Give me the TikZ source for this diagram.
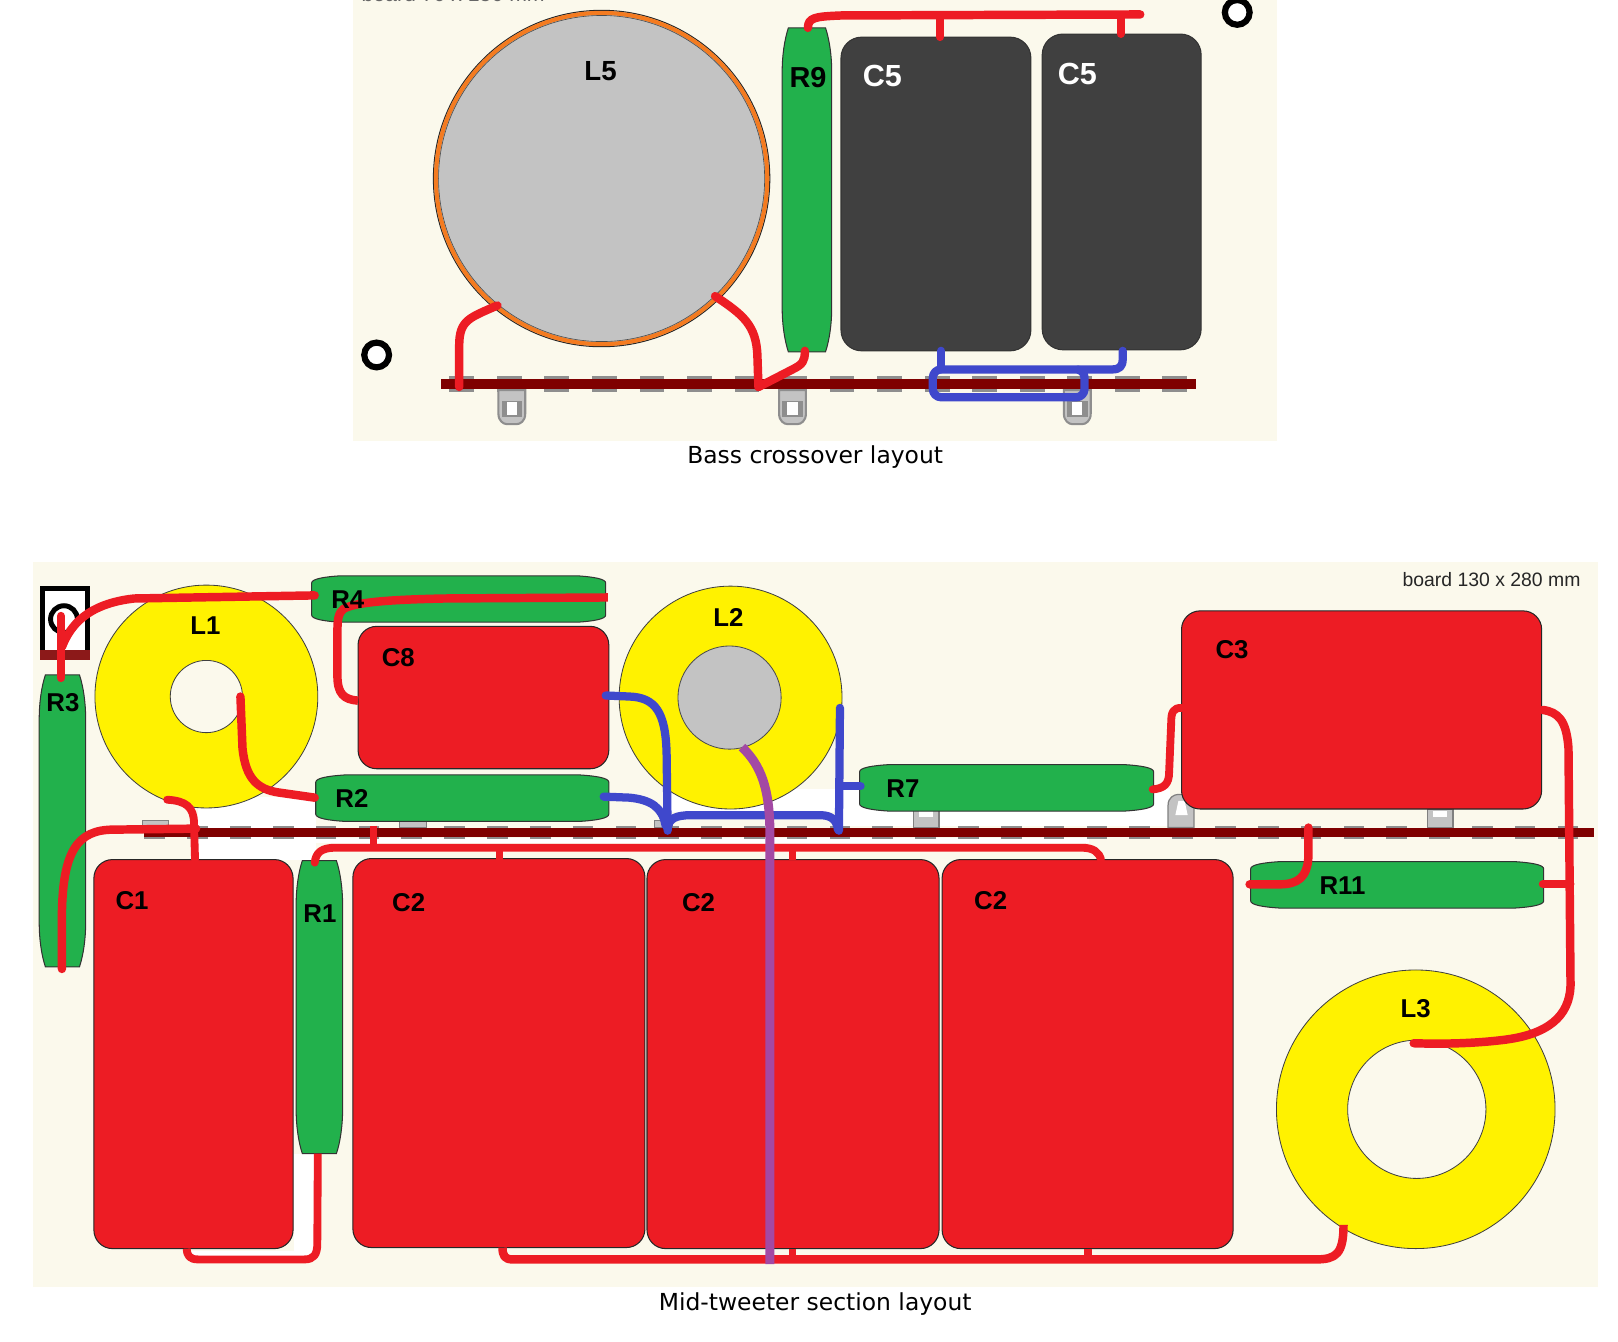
\documentclass[tikz,border=0pt]{standalone}
\usepackage{fontspec}
\setmainfont{Liberation Sans}
\newfontfamily\capfont{DejaVu Sans}
\definecolor{boardbg}{HTML}{FBF9EC}
\definecolor{capred}{HTML}{ED1C24}
\definecolor{resgreen}{HTML}{22B14C}
\definecolor{coilyellow}{HTML}{FFF200}
\definecolor{capdark}{HTML}{404040}
\definecolor{stripmaroon}{HTML}{7F0000}
\definecolor{wireblue}{HTML}{3F48CC}
\definecolor{wirepurple}{HTML}{A349A4}
\definecolor{coilgray}{HTML}{C3C3C3}
\definecolor{coilorange}{HTML}{F47B20}
\definecolor{dashgray}{HTML}{8E8E8E}
\tikzset{
  board/.style={fill=boardbg,draw=none},
  capbox/.style={fill=capred,draw=black!85,line width=0.5pt,rounded corners=9pt},
  darkbox/.style={fill=capdark,draw=capdark!80!black,line width=0.5pt,rounded corners=10pt},
  res/.style={fill=resgreen,draw=black!80,line width=0.5pt},
  coil/.style={fill=coilyellow,draw=black!75,line width=0.4pt},
  hole/.style={fill=boardbg,draw=black!75,line width=0.4pt},
  redw/.style={draw=capred,line width=4.1pt,line cap=round,line join=round},
  thinred/.style={draw=capred,line width=3.8pt,line cap=round,line join=round},
  bluew/.style={draw=wireblue,line width=4pt,line cap=round,line join=round},
  purw/.style={draw=wirepurple,line width=4.4pt,line cap=butt,line join=round},
  lab/.style={font=\bfseries\fontsize{12.5pt}{14pt}\selectfont,text=black,inner sep=0pt,yshift=-0.5pt},
  labw/.style={font=\bfseries\fontsize{14.8pt}{16pt}\selectfont,text=white,inner sep=0pt,yshift=-0.5pt},
  capt/.style={font=\capfont\fontsize{11.35pt}{13pt}\selectfont,inner sep=0pt},
  ring/.style={draw=black,line width=3pt,fill=white},
  strip/.style={fill=stripmaroon,draw=none},
  dashb/.style={fill=dashgray,draw=none},
  pinb/.style={fill=coilgray,draw=black!50,line width=0.6pt},
  whitep/.style={fill=white,draw=none}
}
\newcommand{\hres}[4]{%
  \pgfmathsetmacro\xa{#1+28}\pgfmathsetmacro\xb{#3-28}%
  \pgfmathsetmacro\ya{#2+7}\pgfmathsetmacro\yb{#4-7}%
  \path[res] (#1,\ya) .. controls (#1,#2+3) and (#1+12,#2+1) .. (\xa,#2) -- (\xb,#2)
    .. controls (#3-12,#2+1) and (#3,#2+3) .. (#3,\ya) -- (#3,\yb)
    .. controls (#3,#4-3) and (#3-12,#4-1) .. (\xb,#4) -- (\xa,#4)
    .. controls (#1+12,#4-1) and (#1,#4-3) .. (#1,\yb) -- cycle;}
\newcommand{\vres}[4]{%
  \pgfmathsetmacro\xa{#1+6}\pgfmathsetmacro\xb{#3-6}%
  \pgfmathsetmacro\ya{#2+42}\pgfmathsetmacro\yb{#4-42}%
  \path[res] (\xa,#2) -- (\xb,#2) .. controls (#3-2,#2+12) and (#3,#2+28) .. (#3,\ya) -- (#3,\yb)
    .. controls (#3,#4-28) and (#3-2,#4-12) .. (\xb,#4) -- (\xa,#4)
    .. controls (#1+2,#4-12) and (#1,#4-28) .. (#1,\yb) -- (#1,\ya)
    .. controls (#1,#2+28) and (#1+2,#2+12) .. (\xa,#2) -- cycle;}
\newcommand{\bigpin}[3]{% x, ytop, ybottom
  \path[pinb,draw=dashgray,line width=1pt] (#1-13,#2+2) -- (#1+13,#2+2) -- (#1+13,#3-10) .. controls (#1+13,#3-3) and (#1+8,#3) .. (#1+5,#3)
    -- (#1-5,#3) .. controls (#1-8,#3) and (#1-13,#3-3) .. (#1-13,#3-10) -- cycle;
  \path[fill=dashgray] (#1-10,#3-22) rectangle (#1+10,#3-7);
  \path[fill=white] (#1-5,#3-21) -- (#1+5,#3-21) -- (#1+5,#3-9) -- (#1-5,#3-9) -- cycle;}
\begin{document}
\begin{tikzpicture}[x=0.5pt,y=-0.5pt]
\useasboundingbox (0,0) rectangle (1568,1299.6);
\path[fill=white] (0,0) rectangle (1568,1299.6);
% ---------- top board ----------
\path[board] (342,0) rectangle (1238,427);
\begin{scope}
\clip (342,0) rectangle (1238,427);
\node[anchor=base west,inner sep=0pt,text=black!60,font=\fontsize{10.3pt}{11pt}\selectfont] (topnote) at (350,1.5) {board 70 x 150 mm};
\end{scope}
\foreach \n in {0,...,15} {\path[dashb] (447.5+46.07*\n-12,364) rectangle ++(24,16);}
\path[strip] (427,367) rectangle (1159,377);
\bigpin{496}{376}{411}
\bigpin{768}{376}{411}
\bigpin{1044}{376}{411}
\path[fill=coilgray,draw=black!85,line width=0.5pt] (583,173) circle (163);
\draw[coilorange,line width=2pt] (583,173) circle (160.5);
\draw[black!70,line width=0.3pt] (583,173) circle (158);
\vres{758}{27}{806}{341}
\path[darkbox] (815,36) rectangle (999,340);
\path[darkbox] (1010,33) rectangle (1164,339);
\node[lab,font=\bfseries\fontsize{13.4pt}{15pt}\selectfont] (L5) at (582,68) {L5};
\node[lab,font=\bfseries\fontsize{14pt}{15pt}\selectfont] (R9) at (783,74) {R9};
\node[labw] (C5a) at (855,73) {C5};
\node[labw] (C5b) at (1044,71) {C5};
\path[ring] (1199,12) circle (12);
\path[ring] (365,344) circle (12);
\draw[redw] (783,27) .. controls (783,17) and (790,16) .. (815,15) -- (1105,14);
\draw[thinred] (911,15) -- (911,36);
\draw[thinred] (1086,15) -- (1086,33);
\draw[redw] (445,375) -- (445,335) .. controls (445,310) and (455,308) .. (482,296);
\draw[redw] (693,287) .. controls (720,305) and (733,315) .. (734,345) -- (735,375) -- (768,358) .. controls (778,353) and (780,350) .. (780,340);
\draw[bluew] (912,340) -- (912,358);
\draw[bluew,rounded corners=4pt] (912,358) -- (1051,358) -- (1051,385) -- (904,385) -- (904,358) -- (912,358);
\draw[bluew] (1088,340) -- (1088,348) .. controls (1088,355) and (1085,358) .. (1078,358) -- (1045,358);
\node[capt] (cap1) at (790,443) {Bass crossover layout};
% ---------- bottom board ----------
\path[board] (32,545) rectangle (1549,1247);
\node[anchor=east,inner sep=0pt,text=black!85,font=\fontsize{9.4pt}{11pt}\selectfont] (note) at (1532,561.5) {board 130 x 280 mm};
% white paint patches
\path[whitep] (192,772) rectangle (306,833);
\path[whitep] (192,812) rectangle (1055,817);
\path[whitep] (650,765) rectangle (812,787);
\path[whitep] (815,765) rectangle (1134,800);
\path[whitep] (186,1212) rectangle (303,1217);
\path[whitep] (285,1118) rectangle (304,1217);
% terminal
\path[fill=white,draw=black,line width=2.4pt] (41.5,570.5) rectangle (84.5,632);
\path[fill=stripmaroon!90!white] (39,630) rectangle (87,640);
\path[draw=black,line width=2.4pt] (62,600) circle (13);
% strip and dashes
\foreach \n in {0,...,33} {\path[dashb] (150+41.5*\n-10,800.5) rectangle ++(20,13);}
\path[strip] (140,802.5) rectangle (1545,811);
% pins
\path[pinb] (138,795) rectangle (163,802);
\path[pinb] (387,795) rectangle (413,802);
\path[pinb] (634,795) rectangle (652,802);
\path[pinb] (885,784) rectangle (910,802);
\path[fill=white] (891,786) rectangle (904,792);
\path[pinb] (1132,802) -- (1132,780) .. controls (1132,773) and (1138,770) .. (1141,770) -- (1148,770) .. controls (1152,770) and (1157,775) .. (1157,780) -- (1157,802) -- cycle;
\path[fill=white] (1139,790) -- (1151,790) -- (1148,776) -- (1142,776) -- cycle;
\path[pinb] (1383,784) rectangle (1408,802);
\path[fill=white] (1389,786) rectangle (1402,792);
% coils
\path[coil] (200,675) circle (108);
\path[hole] (200,675) circle (35);
\path[coil] (708,676) circle (108);
\path[fill=coilgray,draw=black!70,line width=0.4pt] (707,676) circle (50);
\path[coil] (1372,1075) circle (135);
\path[hole] (1373,1075) circle (67);
% resistors
\vres{38}{654}{83}{937}
\hres{302}{558}{587}{603}
\hres{306}{751}{590}{796}
\hres{833}{741}{1118}{786}
\hres{1212}{835}{1496}{880}
\vres{287}{834}{332}{1118}
% capacitors
\path[capbox] (347,607) rectangle (590,745);
\path[capbox] (1145,592) rectangle (1494,784);
\path[capbox] (91,833) rectangle (284,1210);
\path[capbox] (342,832) rectangle (625,1209);
\path[capbox] (627,833) rectangle (910,1210);
\path[capbox] (913,833) rectangle (1195,1210);
% red wires
\draw[redw] (59,597) -- (59,657);
\draw[redw] (60,627) .. controls (68,606) and (85,585) .. (130,580) -- (305,577);
\draw[redw,line cap=butt] (589,579) -- (430,580) .. controls (385,581) and (345,583) .. (333,590) .. controls (328,594) and (327,600) .. (327,612) -- (327,655) .. controls (327,672) and (333,678) .. (347,679);
\draw[redw] (233,675) -- (235,725) .. controls (238,755) and (250,765) .. (270,768) -- (305,773);
\draw[thinred] (162,775) .. controls (180,776) and (188,782) .. (188,798) -- (189,833);
\draw[redw] (60,939) -- (60,885) .. controls (61,825) and (75,804) .. (110,804) -- (190,803);
\draw[thinred] (305,836) .. controls (306,826) and (312,821.5) .. (325,821.5) -- (1048,821.5) .. controls (1060,821.5) and (1065,826) .. (1067,833);
\draw[thinred,line cap=butt] (362,800) -- (362,822);
\draw[thinred,line cap=butt] (484,822) -- (484,833);
\draw[thinred,line cap=butt] (768,822) -- (768,833);
\draw[thinred] (1117,765) .. controls (1128,764) and (1133,760) .. (1133,748) -- (1135,700) .. controls (1135,690) and (1137,686) .. (1145,686);
\draw[redw] (1495,688) .. controls (1510,690) and (1518,698) .. (1520,725) -- (1522,955) .. controls (1521,985) and (1500,1003) .. (1455,1008) .. controls (1430,1011) and (1400,1012) .. (1370,1011);
\draw[redw] (1268,802) -- (1268,830) .. controls (1267,850) and (1258,857) .. (1240,857) -- (1211,857);
\draw[thinred] (1495,857) -- (1522,857);
\draw[thinred,line cap=butt] (181,1210) .. controls (181,1217) and (184,1220.5) .. (192,1220.5) -- (295,1220.5) .. controls (304,1220.5) and (307.5,1216) .. (307.5,1205) -- (308,1118);
\draw[redw,line cap=butt] (487,1209) .. controls (487,1217) and (489,1220.5) .. (497,1220.5) -- (1275,1220.5) .. controls (1295,1220.5) and (1302,1215) .. (1302,1187);
\draw[thinred,line cap=butt] (768,1210) -- (768,1221);
\draw[thinred,line cap=butt] (1054,1210) -- (1054,1221);
% blue wires
\draw[bluew] (587,674) -- (610,675) .. controls (635,676) and (645,690) .. (646,730) -- (647,805);
\draw[bluew] (585,772) -- (610,773) .. controls (630,775) and (642,782) .. (645,800);
\draw[bluew] (647,803) .. controls (648,793) and (655,790) .. (670,790) -- (795,790) .. controls (806,790) and (811,795) .. (812,804);
\draw[bluew] (814,686) -- (813,805);
\draw[bluew] (814,762) -- (834,762);
% purple wire
\draw[purw] (719,724) .. controls (738,742) and (745,765) .. (746,800) -- (746,1225);
% labels
\node[lab] (R3) at (61,680) {R3};
\node[lab] (L1) at (199,605) {L1};
\node[lab] (R4) at (337,580) {R4};
\node[lab] (C8) at (386,636) {C8};
\node[lab] (R2) at (341,773) {R2};
\node[lab] (L2) at (706,597) {L2};
\node[lab] (R7) at (875,763) {R7};
\node[lab] (C3) at (1194,629) {C3};
\node[lab] (R11) at (1301,857) {R11};
\node[lab] (C1) at (128,872) {C1};
\node[lab] (R1) at (310,884) {R1};
\node[lab] (C2a) at (396,874) {C2};
\node[lab] (C2b) at (677,874) {C2};
\node[lab] (C2c) at (960,872) {C2};
\node[lab] (L3) at (1372,976) {L3};
\node[capt] (cap2) at (790,1264) {Mid-tweeter section layout};
\end{tikzpicture}
\end{document}
